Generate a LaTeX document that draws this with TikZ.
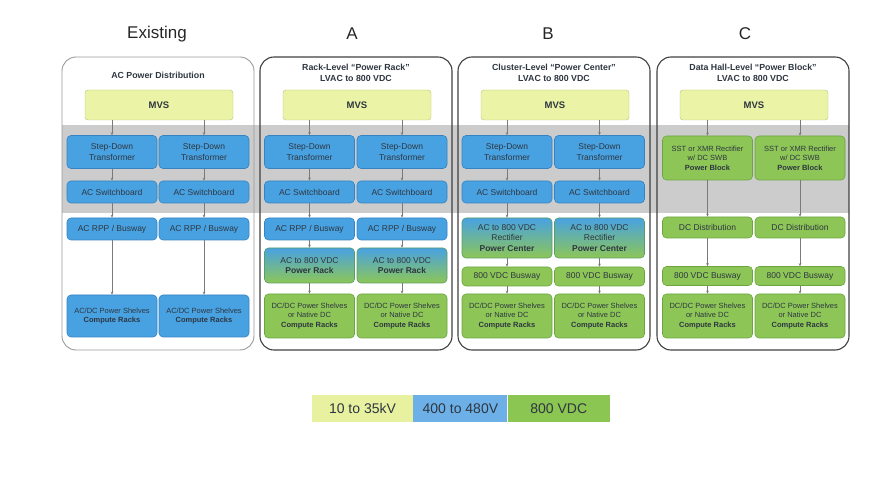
\documentclass[tikz,border=0pt]{standalone}
\usepackage{fontspec}
\setmainfont{Liberation Sans}
\usepackage{xcolor}
\usetikzlibrary{arrows.meta, positioning}

\definecolor{acblue}{HTML}{48A2E2}
\definecolor{acblueline}{HTML}{3583C2}
\definecolor{dcgreen}{HTML}{8DC657}
\definecolor{dcgreenline}{HTML}{6AA63F}
\definecolor{mvsyellow}{HTML}{EBF3A6}
\definecolor{mvsline}{HTML}{B9C274}
\definecolor{bandgray}{HTML}{CCCCCC}
\definecolor{txtgray}{HTML}{2E3640}
\definecolor{wiregray}{HTML}{7A7A7A}
\definecolor{legyellow}{HTML}{E8F1A0}
\definecolor{legblue}{HTML}{6DB0E8}
\definecolor{leggreen}{HTML}{8BC552}

\begin{document}
\begin{tikzpicture}[
  x=1pt, y=-1pt,
  htitle/.style = {font=\fontsize{17}{20}\selectfont, text=black!85},
  panel/.style  = {rectangle, draw=black!75, rounded corners=14pt, line width=1.1pt,
                   minimum width=192pt, minimum height=293pt, inner sep=0pt},
  ptitle/.style = {font=\bfseries\fontsize{8.8}{11}\selectfont, align=center, text=txtgray},
  band/.style   = {rectangle, fill=bandgray, minimum width=787pt, minimum height=88pt,
                   inner sep=0pt},
  mvs/.style    = {rectangle, draw=mvsline, fill=mvsyellow, rounded corners=3pt,
                   minimum width=148pt, minimum height=30pt, inner sep=0pt,
                   font=\bfseries\fontsize{9.5}{11}\selectfont, text=txtgray},
  box/.style    = {rectangle, rounded corners=4pt, line width=0.6pt, minimum width=90pt,
                   inner sep=0pt, align=center, text=txtgray,
                   font=\fontsize{8.5}{10.5}\selectfont},
  acbox/.style  = {box, fill=acblue, draw=acblueline},
  dcbox/.style  = {box, fill=dcgreen, draw=dcgreenline},
  mixbox/.style = {box, top color=acblue, bottom color=dcgreen, draw=dcgreenline!70!acblueline},
  rackbox/.style = {font=\fontsize{7.5}{9.5}\selectfont},
  arr/.style    = {-{Stealth[length=3pt, width=2.6pt]}, line width=0.5pt, draw=wiregray},
  lgd/.style    = {rectangle, minimum height=27pt, inner sep=0pt, text=txtgray,
                   font=\fontsize{14}{16}\selectfont}
]
  \useasboundingbox (0,0) rectangle (895,489);

  % shaded LV band behind all four panels
  \node[band] (lvband) at (455.5,169) {};

  % column headings
  \node[htitle] (h0) at (157,34) {Existing};
  \node[htitle] (h1) at (352,34) {A};
  \node[htitle] (h2) at (548,34) {B};
  \node[htitle] (h3) at (745,34) {C};

  % Existing
  \node[panel, draw=black!40, line width=0.9pt] (p0) at (158,203.5) {};
  \node[ptitle] (t0) at (158,75) {AC Power Distribution};
  \node[mvs] (m0) at (159,105) {MVS};
  \foreach \s/\x in {l/112, r/204} {
    \node[acbox, minimum height=33pt] (sd0\s) at (\x,152) {Step-Down\\Transformer};
    \node[acbox, minimum height=22pt] (sw0\s) at (\x,192) {AC Switchboard};
    \node[acbox, minimum height=22pt] (rp0\s) at (\x,229) {AC RPP / Busway};
    \node[acbox, rackbox, minimum height=42pt] (cr0\s) at (\x,316)
          {AC/DC Power Shelves\\\textbf{Compute Racks}};
    \draw[arr] (m0.south -| sd0\s) -- (sd0\s);
    \draw[arr] (sd0\s) -- (sw0\s);
    \draw[arr] (sw0\s) -- (rp0\s);
    \draw[arr] (rp0\s) -- (cr0\s);
  }

  % A: rack level
  \node[panel] (p1) at (356,203.5) {};
  \node[ptitle] (t1) at (356,72.5) {Rack-Level “Power Rack”\\LVAC to 800 VDC};
  \node[mvs] (m1) at (357,105) {MVS};
  \foreach \s/\x in {l/309.5, r/402} {
    \node[acbox, minimum height=33pt] (sd1\s) at (\x,152) {Step-Down\\Transformer};
    \node[acbox, minimum height=22pt] (sw1\s) at (\x,192) {AC Switchboard};
    \node[acbox, minimum height=22pt] (rp1\s) at (\x,229) {AC RPP / Busway};
    \node[mixbox, minimum height=35pt] (pr1\s) at (\x,265.5) {AC to 800 VDC\\\textbf{Power Rack}};
    \node[dcbox, rackbox, minimum height=44pt] (cr1\s) at (\x,316)
          {DC/DC Power Shelves\\or Native DC\\\textbf{Compute Racks}};
    \draw[arr] (m1.south -| sd1\s) -- (sd1\s);
    \draw[arr] (sd1\s) -- (sw1\s);
    \draw[arr] (sw1\s) -- (rp1\s);
    \draw[arr] (rp1\s) -- (pr1\s);
    \draw[arr] (pr1\s) -- (cr1\s);
  }

  % B: cluster level
  \node[panel] (p2) at (554,203.5) {};
  \node[ptitle] (t2) at (554,72.5) {Cluster-Level “Power Center”\\LVAC to 800 VDC};
  \node[mvs] (m2) at (555,105) {MVS};
  \foreach \s/\x in {l/507, r/599.5} {
    \node[acbox, minimum height=33pt] (sd2\s) at (\x,152) {Step-Down\\Transformer};
    \node[acbox, minimum height=22pt] (sw2\s) at (\x,192) {AC Switchboard};
    \node[mixbox, minimum height=40pt] (pc2\s) at (\x,238)
          {AC to 800 VDC\\Rectifier\\\textbf{Power Center}};
    \node[dcbox, minimum height=19pt] (bw2\s) at (\x,276.5) {800 VDC Busway};
    \node[dcbox, rackbox, minimum height=44pt] (cr2\s) at (\x,316)
          {DC/DC Power Shelves\\or Native DC\\\textbf{Compute Racks}};
    \draw[arr] (m2.south -| sd2\s) -- (sd2\s);
    \draw[arr] (sd2\s) -- (sw2\s);
    \draw[arr] (sw2\s) -- (pc2\s);
    \draw[arr] (pc2\s) -- (bw2\s);
    \draw[arr] (bw2\s) -- (cr2\s);
  }

  % C: data hall level
  \node[panel] (p3) at (753,203.5) {};
  \node[ptitle] (t3) at (753,72.5) {Data Hall-Level “Power Block”\\LVAC to 800 VDC};
  \node[mvs] (m3) at (754,105) {MVS};
  \foreach \s/\x in {l/707.5, r/800} {
    \node[dcbox, rackbox, minimum height=44pt] (pb3\s) at (\x,158)
          {SST or XMR Rectifier\\w/ DC SWB\\\textbf{Power Block}};
    \node[dcbox, minimum height=21pt] (dd3\s) at (\x,227.5) {DC Distribution};
    \node[dcbox, minimum height=19pt] (bw3\s) at (\x,276) {800 VDC Busway};
    \node[dcbox, rackbox, minimum height=44pt] (cr3\s) at (\x,316)
          {DC/DC Power Shelves\\or Native DC\\\textbf{Compute Racks}};
    \draw[arr] (m3.south -| pb3\s) -- (pb3\s);
    \draw[arr] (pb3\s) -- (dd3\s);
    \draw[arr] (dd3\s) -- (bw3\s);
    \draw[arr] (bw3\s) -- (cr3\s);
  }

  % voltage legend
  \node[lgd, fill=legyellow, minimum width=101pt] (lg1) at (362.5,408.5) {10 to 35kV};
  \node[lgd, fill=legblue, minimum width=94pt, right=0pt of lg1] (lg2) {400 to 480V};
  \node[lgd, fill=leggreen, minimum width=102pt, right=0pt of lg2] (lg3) {800 VDC};
\end{tikzpicture}
\end{document}
